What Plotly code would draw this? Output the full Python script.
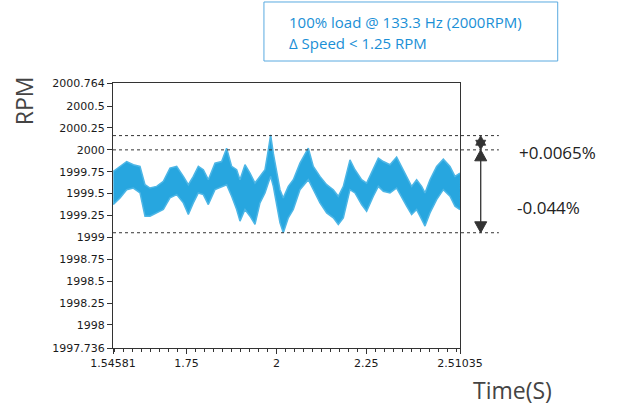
import plotly.graph_objects as go

# ---- data ----
time_s = [1.5467, 1.5653, 1.5838, 1.6023, 1.6209, 1.6347, 1.6486, 1.6672, 1.6857, 1.7042,
          1.7228, 1.7413, 1.7552, 1.7691, 1.7830, 1.7969, 1.8108, 1.8293, 1.8478, 1.8617,
          1.8756, 1.8895, 1.8988, 1.9127, 1.9266, 1.9405, 1.9544, 1.9683, 1.9775, 1.9840,
          1.9914, 2.0007, 2.0100, 2.0192, 2.0331, 2.0470, 2.0655, 2.0887, 2.1026, 2.1211,
          2.1397, 2.1582, 2.1721, 2.1860, 2.2045, 2.2184, 2.2369, 2.2508, 2.2694, 2.2833,
          2.2972, 2.3157, 2.3342, 2.3481, 2.3620, 2.3759, 2.3898, 2.4037, 2.4130, 2.4269,
          2.4454, 2.4640, 2.4825, 2.4964, 2.5103]
rpm_upper = [1999.754, 1999.811, 1999.867, 1999.830, 1999.811, 1999.602, 1999.564, 1999.583, 1999.640, 1999.792,
             1999.811, 1999.697, 1999.602, 1999.697, 1999.811, 1999.773, 1999.659, 1999.848, 1999.867, 2000.019,
             1999.811, 1999.773, 1999.659, 1999.830, 1999.735, 1999.621, 1999.697, 1999.773, 2000.000, 2000.170,
             1999.962, 1999.735, 1999.545, 1999.451, 1999.583, 1999.659, 1999.848, 2000.019, 1999.811, 1999.697,
             1999.602, 1999.545, 1999.470, 1999.583, 1999.886, 1999.773, 1999.659, 1999.621, 1999.773, 1999.905,
             1999.867, 1999.830, 1999.917, 1999.811, 1999.697, 1999.583, 1999.659, 1999.583, 1999.508, 1999.659,
             1999.811, 1999.894, 1999.811, 1999.697, 1999.735]
rpm_lower = [1999.375, 1999.451, 1999.545, 1999.564, 1999.508, 1999.242, 1999.242, 1999.280, 1999.318, 1999.451,
             1999.489, 1999.394, 1999.261, 1999.394, 1999.508, 1999.489, 1999.375, 1999.545, 1999.583, 1999.602,
             1999.470, 1999.318, 1999.186, 1999.318, 1999.242, 1999.148, 1999.394, 1999.508, 1999.621, 1999.697,
             1999.583, 1999.356, 1999.167, 1999.053, 1999.223, 1999.318, 1999.545, 1999.659, 1999.545, 1999.394,
             1999.280, 1999.223, 1999.148, 1999.223, 1999.545, 1999.508, 1999.375, 1999.299, 1999.470, 1999.583,
             1999.527, 1999.508, 1999.564, 1999.451, 1999.356, 1999.261, 1999.318, 1999.205, 1999.129, 1999.280,
             1999.432, 1999.545, 1999.470, 1999.356, 1999.318]

y_ticks = [1997.736, 1998, 1998.25, 1998.5, 1998.75, 1999, 1999.25, 1999.5, 1999.75, 2000, 2000.25, 2000.5, 2000.764]
y_labels = ["1997.736", "1998", "1998.25", "1998.5", "1998.75", "1999", "1999.25", "1999.5",
            "1999.75", "2000", "2000.25", "2000.5", "2000.764"]
x_ticks = [1.54581, 1.75, 2, 2.25, 2.51035]
x_labels = ["1.54581", "1.75", "2", "2.25", "2.51035"]
x_minor_step = 0.025

ref_upper = 2000.163   # +0.0065 %
ref_nominal = 2000.0
ref_lower = 1999.053   # -0.044 %
pct_labels = ["+0.0065%", "-0.044%"]
note_lines = ["100% load @ 133.3 Hz (2000RPM)", "\u0394 Speed < 1.25 RPM"]

BLUE = "#27a6df"
EDGE = "#4db6e6"
INK = "#333333"

x_lo, x_hi = x_ticks[0], x_ticks[-1]
minor_vals = []
k = -9
while 1.75 + k * x_minor_step <= x_hi:
    v = round(1.75 + k * x_minor_step, 4)
    if v >= x_lo:
        minor_vals.append(v)
    k += 1

fig = go.Figure()
fig.add_trace(go.Scatter(x=time_s, y=rpm_upper, mode="lines",
                         line=dict(color=EDGE, width=1.5), hoverinfo="skip", showlegend=False))
fig.add_trace(go.Scatter(x=time_s, y=rpm_lower, mode="lines", fill="tonexty",
                         fillcolor=BLUE, line=dict(color=EDGE, width=1.5),
                         hoverinfo="skip", showlegend=False))

shapes = []
for yv in [ref_upper, ref_nominal, ref_lower]:
    shapes.append(dict(type="line", xref="paper", yref="y", x0=0, x1=1.112, y0=yv, y1=yv,
                       line=dict(color=INK, width=1, dash="3px,3px")))

ax = 1.0597
hw = 0.0173
# big double arrow
shapes.append(dict(type="line", xref="paper", yref="y", x0=ax, x1=ax, y0=ref_nominal - 0.1, y1=ref_lower + 0.1,
                   line=dict(color=INK, width=1.3)))
shapes.append(dict(type="path", xref="paper", yref="y", fillcolor=INK, line=dict(color=INK, width=1),
                   path=f"M {ax} {ref_nominal} L {ax-hw} {ref_nominal-0.125} L {ax+hw} {ref_nominal-0.125} Z"))
shapes.append(dict(type="path", xref="paper", yref="y", fillcolor=INK, line=dict(color=INK, width=1),
                   path=f"M {ax} {ref_lower} L {ax-hw} {ref_lower+0.125} L {ax+hw} {ref_lower+0.125} Z"))
# small double arrow (star)
sw = 0.0144
shapes.append(dict(type="path", xref="paper", yref="y", fillcolor=INK, line=dict(color=INK, width=0.8),
                   path=f"M {ax} {ref_upper} L {ax-sw} {ref_upper-0.11} L {ax+sw} {ref_upper-0.11} Z"))
shapes.append(dict(type="path", xref="paper", yref="y", fillcolor=INK, line=dict(color=INK, width=0.8),
                   path=f"M {ax} {ref_nominal} L {ax-sw} {ref_nominal+0.11} L {ax+sw} {ref_nominal+0.11} Z"))
# note box
shapes.append(dict(type="rect", xref="paper", yref="paper", x0=0.435, x1=1.2816, y0=1.083, y1=1.3057,
                   line=dict(color="#5aaae0", width=1), fillcolor="white"))

annotations = [
    dict(text=note_lines[0], xref="paper", yref="paper", x=0.5006, y=1.2313, xanchor="left", yanchor="middle",
         showarrow=False, font=dict(family="Open Sans", size=15, color="#1a8fd6")),
    dict(text=note_lines[1], xref="paper", yref="paper", x=0.5006, y=1.152, xanchor="left", yanchor="middle",
         showarrow=False, font=dict(family="Open Sans", size=15, color="#1a8fd6")),
    dict(text=pct_labels[0], xref="paper", yref="paper", x=1.1634, y=0.736, xanchor="left", yanchor="middle",
         showarrow=False, font=dict(family="Open Sans", size=17, color="#222222")),
    dict(text=pct_labels[1], xref="paper", yref="paper", x=1.1585, y=0.532, xanchor="left", yanchor="middle",
         showarrow=False, font=dict(family="Open Sans", size=17, color="#222222")),
    dict(text="RPM", xref="paper", yref="paper", x=-0.256, y=0.932, xanchor="center", yanchor="middle",
         textangle=-90, showarrow=False, font=dict(family="Open Sans", size=23, color="#444444")),
    dict(text="Time(S)", xref="paper", yref="paper", x=1.150, y=-0.158, xanchor="center", yanchor="middle",
         showarrow=False, font=dict(family="Open Sans", size=23, color="#444444")),
]

fig.update_layout(
    width=620, height=408,
    margin=dict(l=113, r=160, t=83, b=60),
    paper_bgcolor="white", plot_bgcolor="white",
    shapes=shapes, annotations=annotations,
    showlegend=False,
    xaxis=dict(range=[x_lo, x_hi], tickmode="array", tickvals=x_ticks, ticktext=x_labels,
               showgrid=False, zeroline=False, showline=True, mirror=True, linecolor=INK, linewidth=1,
               ticks="outside", ticklen=5, tickcolor=INK, tickwidth=1,
               tickfont=dict(family="DejaVu Sans", size=11, color="#1a1a1a"),
               minor=dict(tickmode="array", tickvals=minor_vals, ticks="outside", ticklen=3,
                          tickcolor=INK, tickwidth=1, showgrid=False)),
    yaxis=dict(range=[1997.736, 2000.764], tickmode="array", tickvals=y_ticks, ticktext=y_labels,
               showgrid=False, zeroline=False, showline=True, mirror=True, linecolor=INK, linewidth=1,
               ticks="outside", ticklen=5, tickcolor=INK, tickwidth=1,
               tickfont=dict(family="DejaVu Sans", size=11, color="#1a1a1a")),
)

fig.write_html("out.html", config={"displayModeBar": False},
               post_script="document.body.style.margin='0';document.body.style.overflow='hidden';")
